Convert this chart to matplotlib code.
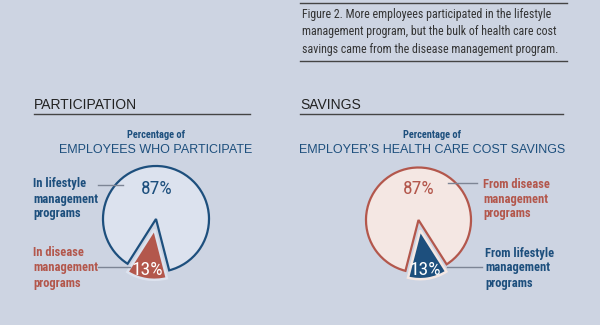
import matplotlib.pyplot as plt

# Data
participation_labels = ["In disease\nmanagement\nprograms", "In lifestyle\nmanagement\nprograms"]
participation_values = [13, 87]
savings_labels = ["From lifestyle\nmanagement\nprograms", "From disease\nmanagement\nprograms"]
savings_values = [13, 87]

caption = ("Figure 2. More employees participated in the lifestyle\n"
           "management program, but the bulk of health care cost\n"
           "savings came from the disease management program.")

BG = "#cdd4e2"
NAVY = "#1d4f7d"
RED = "#b3574c"
LIGHT_BLUE = "#dce2ee"
LIGHT_PINK = "#f4e7e3"
NARROW = ["Roboto Condensed", "Archivo Narrow", "DejaVu Sans"]
REG = ["Liberation Sans", "DejaVu Sans"]

W, H = 600, 325


def fx(x):
    return x / W


def fy(y):
    return 1 - y / H


def pie_panel(fig, cx, cy, r, values, colors, fill_big, small_r, explode, start):
    half = 72
    ax = fig.add_axes([fx(cx - half), fy(cy + half), 2 * half / W, 2 * half / H])
    wedges, _ = ax.pie(values, startangle=start, counterclock=True,
                       explode=[explode, 0], colors=[colors[0], fill_big])
    small, big = wedges
    small.set_radius(small_r)
    small.set_edgecolor(fill_big)
    small.set_linewidth(1.8)
    big.set_edgecolor(colors[1])
    big.set_linewidth(1.6)
    big.set_zorder(1)
    small.set_zorder(2)
    ax.set_xlim(-half / r, half / r)
    ax.set_ylim(-half / r, half / r)
    ax.set_aspect("auto")
    ax.axis("off")
    return ax


def main():
    fig = plt.figure(figsize=(6, 3.25), dpi=100, facecolor=BG)

    # Caption box
    fig.add_artist(plt.Line2D([fx(300), fx(567)], [fy(3), fy(3)], color="#444", lw=1))
    fig.add_artist(plt.Line2D([fx(300), fx(567)], [fy(61), fy(61)], color="#444", lw=1))
    fig.text(fx(302), fy(32), caption, family=NARROW, fontsize=8.6, color="#333",
             va="center", ha="left", linespacing=1.45)

    # Section headings
    fig.text(fx(34), fy(105), "PARTICIPATION", family=REG, fontsize=10, color="#222", va="center")
    fig.text(fx(300), fy(105), "SAVINGS", family=REG, fontsize=10, color="#222", va="center")
    fig.add_artist(plt.Line2D([fx(34), fx(250)], [fy(114), fy(114)], color="#444", lw=1))
    fig.add_artist(plt.Line2D([fx(300), fx(563)], [fy(114), fy(114)], color="#444", lw=1))

    # Subtitles
    fig.text(fx(156), fy(135), "Percentage of", family=NARROW, weight="bold",
             fontsize=7.5, color=NAVY, ha="center", va="center")
    fig.text(fx(156), fy(150), "EMPLOYEES WHO PARTICIPATE", family=REG,
             fontsize=9, color=NAVY, ha="center", va="center")
    fig.text(fx(432), fy(135), "Percentage of", family=NARROW, weight="bold",
             fontsize=7.5, color=NAVY, ha="center", va="center")
    fig.text(fx(432), fy(150), "EMPLOYER\u2019S HEALTH CARE COST SAVINGS", family=REG,
             fontsize=9, color=NAVY, ha="center", va="center")

    # Pies
    pie_panel(fig, 156, 219, 53, participation_values, [RED, NAVY], LIGHT_BLUE,
              0.95, 0.2, 237.6)
    pie_panel(fig, 418.5, 220, 52.5, savings_values, [NAVY, RED], LIGHT_PINK,
              0.93, 0.2, 255.6)

    # Percent labels
    fig.text(fx(157), fy(189), f"{participation_values[1]}%", family=NARROW, fontsize=14,
             color=NAVY, ha="center", va="center")
    fig.text(fx(147), fy(270), f"{participation_values[0]}%", family=NARROW, fontsize=14,
             color="white", ha="center", va="center")
    fig.text(fx(419), fy(189), f"{savings_values[1]}%", family=NARROW, fontsize=14,
             color=RED, ha="center", va="center")
    fig.text(fx(425), fy(270), f"{savings_values[0]}%", family=NARROW, fontsize=14,
             color="white", ha="center", va="center")

    # Side labels and leader lines
    fig.text(fx(33), fy(199), participation_labels[1], family=NARROW, weight="bold",
             fontsize=9, color=NAVY, ha="left", va="center", linespacing=1.2)
    fig.text(fx(33), fy(268), participation_labels[0], family=NARROW, weight="bold",
             fontsize=9, color=RED, ha="left", va="center", linespacing=1.2)
    fig.text(fx(483), fy(199), savings_labels[1], family=NARROW, weight="bold",
             fontsize=9, color=RED, ha="left", va="center", linespacing=1.2)
    fig.text(fx(485), fy(268), savings_labels[0], family=NARROW, weight="bold",
             fontsize=9, color=NAVY, ha="left", va="center", linespacing=1.2)

    for x0, x1, y in [(98, 123, 185), (98, 130, 267), (448, 477, 183), (447, 482, 267)]:
        fig.add_artist(plt.Line2D([fx(x0), fx(x1)], [fy(y), fy(y)], color="#7d8595", lw=1))

    fig.savefig("out.png", dpi=100, facecolor=BG)
    plt.close(fig)


if __name__ == "__main__":
    main()
